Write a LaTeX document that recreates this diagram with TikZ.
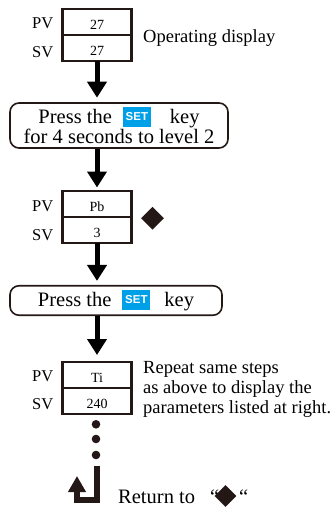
\documentclass[tikz,border=0pt]{standalone}
\usepackage{fontspec}
\setmainfont{Liberation Serif}
\newfontfamily\keyfont{Liberation Sans}
\usepackage{tikz}
\usetikzlibrary{arrows.meta}
\usetikzlibrary{positioning,shapes.geometric}
\usepackage{xcolor}
\definecolor{inkdark}{RGB}{35,24,21}
\definecolor{keyblue}{RGB}{0,160,233}
\tikzset{
    cell/.style={
        draw=inkdark,
        line width=2.8pt,
        minimum width=69pt,
        minimum height=26pt,
        inner sep=0pt,
        outer sep=0pt,
        text height=14.5pt,
        text depth=0pt,
        font=\fontsize{14}{14}\selectfont
    },
    pvsv/.style={
        inner sep=0pt,
        anchor=base east,
        font=\fontsize{16.5}{16.5}\selectfont
    },
    stepbox/.style={
        draw=inkdark,
        line width=1.6pt,
        rounded corners=9pt,
        inner sep=0pt,
        align=center,
        font=\fontsize{20.5}{20}\selectfont
    },
    flow/.style={
        draw=black,
        line width=5pt,
        -{Triangle[length=16pt, width=19pt]}
    },
    backflow/.style={
        draw=inkdark,
        line width=6pt,
        -{Triangle[length=16pt, width=17pt]}
    },
    marker/.style={
        diamond,
        fill=inkdark,
        minimum width=23pt,
        minimum height=23pt,
        inner sep=0pt
    },
    dot/.style={
        circle,
        fill=inkdark,
        minimum size=8.6pt,
        inner sep=0pt
    },
    note/.style={
        inner sep=0pt,
        align=left,
        font=\fontsize{18.5}{20}\selectfont
    }
}
\newcommand{\setkey}{{\setlength{\fboxsep}{0pt}\colorbox{keyblue}{\makebox[28pt][c]{\rule[-4pt]{0pt}{20pt}\raisebox{2.5pt}{\color{white}\keyfont\bfseries\fontsize{11.5}{11.5}\selectfont SET}}}}}

\begin{document}
\begin{tikzpicture}[x=1pt,y=-1pt]
  \useasboundingbox (0,0) rectangle (334,508);

  % Operating display
  \node[cell] (pv1) at (97,22) {27};
  \node[cell, below=0pt of pv1] (sv1) {27};
  \node[pvsv] (pvlbl1) at ([xshift=-9pt,yshift=-7pt]pv1.west) {PV};
  \node[pvsv] (svlbl1) at ([xshift=-9pt,yshift=-10pt]sv1.west) {SV};
  \node[note, anchor=base west] (opdisp) at (143,43) {Operating display};

  % First key press
  \node[stepbox, minimum width=218pt, minimum height=45pt] (step1) at (119,125.5)
    {Press the\hspace{11pt}\setkey\hspace{19pt}key\\for 4 seconds to level 2};

  % Level 2 display
  \node[cell] (pv2) at (97,204) {Pb};
  \node[cell, below=0pt of pv2] (sv2) {3};
  \node[pvsv] (pvlbl2) at ([xshift=-9pt,yshift=-7pt]pv2.west) {PV};
  \node[pvsv] (svlbl2) at ([xshift=-9pt,yshift=-10pt]sv2.west) {SV};
  \node[marker] (mark1) at (152.5,218.3) {};

  % Second key press
  \node[stepbox, minimum width=212pt, minimum height=29.5pt] (step2) at (116,300.5)
    {Press the\hspace{11pt}\setkey\hspace{14pt}key};

  % Next parameter
  \node[cell] (pv3) at (97,375) {Ti};
  \node[cell, below=0pt of pv3] (sv3) {240};
  \node[pvsv] (pvlbl3) at ([xshift=-9pt,yshift=-6pt]pv3.west) {PV};
  \node[pvsv] (svlbl3) at ([xshift=-9pt,yshift=-8pt]sv3.west) {SV};
  \node[note, anchor=north west] (repeat) at (143,361.5)
    {Repeat same steps\\as above to display the\\parameters listed at right.};

  % Dots
  \foreach \i/\y in {1/424.3, 2/439, 3/455} {
    \node[dot] (dot\i) at (96,\y) {};
  }

  % Arrows
  \draw[flow, shorten >=4.5pt] (sv1.south) -- (sv1.south |- step1.north);
  \draw[flow, shorten >=3.5pt] (pv2.north |- step1.south) -- (pv2.north);
  \draw[flow, shorten >=4pt] (sv2.south) -- (sv2.south |- step2.north);
  \draw[flow, shorten >=7pt] (pv3.north |- step2.south) -- (pv3.north);

  % Return arrow
  \coordinate (retstart) at (96.5,466);
  \coordinate (retcorner) at (77,500);
  \coordinate (retend) at (77,476);
  \draw[backflow] (retstart) |- (retcorner) -- (retend);
  \node[inner sep=0pt, anchor=base west, font=\fontsize{20.5}{20}\selectfont] (retlbl) at (118,503) {Return to\hspace{15pt}“};
  \node[marker, minimum width=22pt, minimum height=22pt] (mark2) at (225.5,496) {};
  \node[inner sep=0pt, anchor=base west, font=\fontsize{20.5}{20}\selectfont] (retq) at (239,503) {“};
\end{tikzpicture}
\end{document}
